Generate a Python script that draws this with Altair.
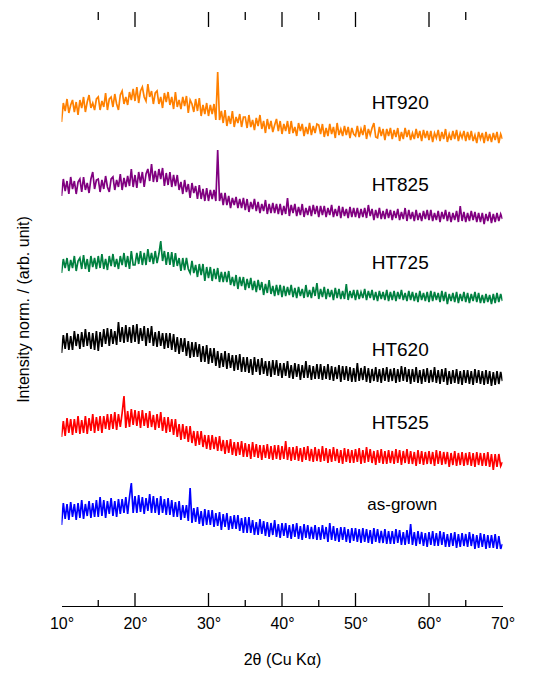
import altair as alt
import pandas as pd

# ---- data ----
series_names = ["HT920", "HT825", "HT725", "HT620", "HT525", "as-grown"]
series_colors = ["#ff8000", "#800080", "#008040", "#000000", "#ff0000", "#0000ff"]
series_offsets = [460, 380, 300, 220, 140, 60]

theta_start = 10.0
theta_step = 0.25

ht920 = [
    24, 43, 35, 47, 33, 41, 46, 34, 44, 31, 46, 38, 49, 34, 44, 51, 38, 43, 36, 47,
    49, 36, 45, 39, 53, 36, 47, 49, 39, 52, 42, 36, 51, 55, 42, 49, 41, 54, 46, 57,
    45, 59, 43, 55, 59, 49, 45, 62, 49, 55, 42, 53, 55, 42, 49, 38, 53, 44, 54, 41,
    49, 37, 54, 39, 46, 37, 49, 40, 50, 33, 46, 42, 34, 47, 35, 48, 30, 41, 32, 43,
    30, 41, 32, 42, 26, 74, 26, 35, 23, 36, 20, 30, 22, 35, 19, 29, 23, 32, 19, 29,
    29, 18, 31, 19, 26, 16, 28, 20, 31, 17, 25, 13, 27, 17, 25, 14, 21, 27, 15, 25,
    12, 22, 15, 25, 12, 25, 13, 19, 10, 23, 15, 22, 10, 19, 12, 23, 11, 20, 13, 22,
    21, 12, 22, 9, 18, 10, 22, 12, 19, 8, 23, 11, 17, 10, 20, 11, 19, 8, 18, 12,
    10, 20, 9, 17, 11, 21, 7, 17, 11, 18, 23, 9, 8, 19, 10, 17, 6, 17, 10, 18,
    7, 16, 9, 18, 5, 14, 7, 18, 9, 16, 6, 13, 7, 17, 8, 15, 5, 16, 8, 15,
    6, 15, 4, 13, 8, 16, 5, 14, 7, 17, 4, 12, 6, 15, 7, 16, 5, 13, 8, 15,
    5, 14, 6, 15, 5, 11, 3, 14, 7, 13, 3, 14, 5, 12, 4, 13, 6, 14, 3, 12,
    7]
ht825 = [
    30, 47, 35, 45, 32, 49, 37, 45, 32, 44, 47, 34, 49, 36, 43, 33, 47, 54, 37, 46,
    47, 34, 46, 37, 50, 39, 34, 47, 49, 36, 46, 39, 52, 36, 48, 39, 50, 40, 57, 39,
    51, 38, 54, 43, 54, 39, 52, 57, 45, 62, 44, 55, 44, 57, 47, 58, 40, 53, 41, 54,
    39, 51, 40, 51, 36, 44, 32, 46, 34, 42, 28, 43, 33, 40, 27, 41, 27, 37, 25, 38,
    25, 36, 27, 36, 25, 76, 25, 33, 21, 33, 21, 30, 18, 28, 21, 29, 18, 27, 18, 28,
    16, 27, 14, 24, 17, 27, 15, 24, 13, 22, 15, 26, 12, 22, 13, 23, 13, 22, 12, 22,
    11, 20, 12, 28, 10, 21, 13, 22, 10, 19, 11, 22, 9, 18, 11, 20, 10, 21, 12, 20,
    9, 20, 11, 20, 9, 18, 11, 21, 9, 17, 10, 20, 8, 19, 10, 17, 8, 19, 9, 18,
    9, 18, 8, 17, 9, 18, 8, 21, 10, 17, 6, 16, 8, 18, 7, 15, 7, 17, 8, 16,
    6, 15, 8, 17, 6, 14, 7, 18, 5, 16, 7, 14, 5, 16, 6, 13, 5, 15, 7, 16,
    6, 16, 5, 13, 6, 15, 4, 14, 7, 16, 5, 14, 4, 13, 6, 15, 4, 20, 5, 14,
    4, 13, 5, 15, 6, 14, 4, 13, 4, 13, 2, 12, 5, 14, 3, 12, 4, 13, 5, 12,
    7]
ht725 = [
    33, 47, 38, 48, 35, 46, 38, 50, 35, 45, 48, 37, 51, 37, 47, 34, 50, 39, 48, 37,
    50, 38, 52, 37, 47, 36, 50, 40, 52, 39, 47, 37, 50, 41, 53, 39, 50, 37, 55, 41,
    41, 53, 42, 55, 41, 53, 41, 57, 44, 53, 42, 55, 43, 52, 65, 45, 55, 41, 54, 41,
    54, 39, 53, 40, 48, 35, 48, 36, 48, 37, 33, 45, 33, 41, 29, 42, 31, 42, 25, 39,
    28, 39, 25, 37, 27, 38, 24, 34, 24, 34, 24, 35, 21, 29, 20, 31, 17, 29, 20, 29,
    16, 27, 18, 28, 16, 25, 14, 26, 16, 24, 11, 22, 13, 26, 12, 20, 10, 21, 11, 21,
    9, 20, 10, 19, 11, 21, 9, 18, 8, 19, 10, 17, 8, 21, 9, 16, 8, 19, 10, 23,
    7, 17, 9, 19, 7, 17, 9, 16, 6, 18, 8, 17, 7, 15, 7, 22, 6, 15, 8, 16,
    6, 16, 7, 14, 8, 17, 6, 15, 8, 16, 6, 14, 5, 15, 7, 14, 6, 16, 5, 14,
    6, 15, 5, 14, 7, 16, 6, 13, 5, 15, 6, 14, 5, 13, 4, 15, 6, 13, 5, 14,
    4, 15, 5, 14, 6, 13, 4, 15, 5, 14, 2, 12, 5, 13, 4, 14, 3, 12, 5, 14,
    4, 13, 3, 12, 5, 14, 4, 13, 3, 11, 3, 12, 4, 11, 2, 12, 3, 13, 4, 12,
    5]
ht620 = [
    33, 51, 37, 53, 36, 50, 36, 55, 40, 52, 37, 54, 39, 57, 40, 54, 37, 53, 36, 55,
    35, 54, 39, 57, 42, 58, 40, 57, 42, 55, 41, 64, 44, 59, 43, 61, 44, 59, 43, 61,
    44, 62, 42, 58, 45, 60, 40, 58, 43, 60, 40, 54, 39, 55, 40, 53, 37, 53, 38, 53,
    36, 52, 34, 49, 32, 48, 34, 48, 30, 45, 28, 44, 29, 44, 29, 42, 24, 40, 24, 41,
    22, 38, 23, 38, 20, 35, 18, 33, 19, 35, 17, 33, 18, 31, 15, 31, 16, 32, 14, 29,
    14, 29, 13, 27, 11, 29, 14, 27, 11, 28, 12, 25, 10, 25, 9, 26, 11, 26, 10, 23,
    8, 23, 10, 25, 8, 21, 7, 23, 9, 22, 6, 21, 8, 25, 8, 21, 6, 20, 7, 22,
    7, 22, 6, 20, 7, 22, 6, 20, 5, 19, 7, 21, 4, 20, 6, 20, 5, 19, 4, 18,
    4, 23, 5, 18, 6, 20, 4, 18, 3, 17, 5, 19, 4, 17, 3, 18, 5, 19, 4, 17,
    5, 18, 3, 17, 4, 20, 5, 19, 4, 17, 2, 17, 4, 19, 3, 16, 2, 17, 4, 18,
    3, 16, 4, 19, 3, 16, 2, 17, 4, 18, 1, 15, 2, 16, 3, 17, 2, 15, 1, 16,
    3, 16, 2, 15, 1, 17, 3, 16, 2, 15, 1, 16, 2, 15, 0, 14, 1, 15, 2, 14,
    5]
ht525 = [
    29, 45, 30, 48, 33, 47, 31, 47, 33, 50, 32, 46, 33, 50, 32, 48, 35, 52, 33, 49,
    35, 50, 33, 50, 37, 52, 36, 52, 37, 54, 36, 52, 39, 53, 70, 38, 55, 39, 57, 41,
    56, 40, 55, 38, 56, 40, 53, 38, 55, 39, 51, 36, 52, 38, 54, 35, 49, 33, 49, 34,
    47, 31, 47, 29, 42, 26, 42, 27, 40, 24, 40, 23, 35, 20, 35, 21, 35, 19, 31, 17,
    31, 16, 31, 17, 29, 15, 30, 15, 26, 12, 26, 13, 27, 11, 24, 10, 24, 11, 25, 9,
    23, 9, 22, 7, 24, 9, 22, 8, 21, 6, 21, 8, 22, 7, 20, 6, 21, 7, 21, 6,
    20, 7, 25, 6, 19, 5, 19, 6, 20, 5, 18, 4, 19, 6, 20, 5, 17, 4, 19, 5,
    17, 4, 20, 5, 18, 3, 17, 4, 19, 5, 17, 3, 16, 2, 18, 4, 17, 3, 16, 3,
    17, 4, 18, 2, 16, 3, 19, 4, 17, 3, 15, 1, 16, 3, 17, 2, 15, 2, 16, 3,
    15, 2, 17, 3, 16, 1, 15, 3, 17, 2, 15, 2, 14, 0, 16, 2, 15, 1, 14, 2,
    15, 2, 14, 0, 16, 2, 15, 1, 14, 2, 14, -1, 13, 1, 15, 0, 13, 1, 14, 0,
    13, 1, 14, 0, 13, -1, 14, 1, 13, 0, 13, 0, 14, -1, 12, -4, 12, -1, 12, 0,
    4]
asgrown = [
    21, 43, 27, 42, 26, 44, 29, 42, 26, 43, 28, 46, 27, 42, 30, 45, 28, 43, 29, 46,
    29, 49, 30, 46, 28, 45, 32, 48, 30, 45, 29, 47, 32, 47, 33, 49, 32, 49, 63, 33,
    50, 33, 51, 34, 49, 32, 48, 35, 52, 33, 50, 33, 48, 31, 50, 33, 47, 31, 48, 31,
    46, 29, 44, 29, 45, 26, 41, 28, 41, 25, 58, 23, 38, 24, 39, 22, 35, 20, 37, 21,
    36, 21, 36, 19, 33, 20, 34, 16, 32, 19, 33, 16, 30, 17, 31, 17, 31, 15, 28, 13,
    29, 13, 29, 13, 26, 11, 24, 11, 27, 12, 25, 10, 24, 9, 23, 11, 26, 9, 22, 8,
    23, 10, 23, 8, 21, 7, 22, 9, 23, 7, 20, 6, 22, 8, 21, 7, 19, 7, 21, 6,
    19, 6, 21, 7, 19, 4, 23, 6, 20, 5, 18, 4, 19, 6, 19, 4, 17, 3, 18, 5,
    18, 4, 17, 3, 18, 4, 17, 3, 16, 2, 18, 4, 17, 3, 15, 3, 17, 2, 15, 2,
    15, 2, 17, 3, 16, 1, 14, 1, 16, 2, 22, 1, 14, 0, 15, 2, 14, 0, 13, -1,
    14, 1, 15, 0, 13, 0, 15, 1, 14, -1, 12, -1, 13, 0, 14, -2, 12, -1, 13, 0,
    12, -1, 14, 0, 12, -3, 11, -2, 13, -1, 12, -3, 11, -2, 11, -2, 12, -3, 10, -3,
    2]
series_values = [ht920, ht825, ht725, ht620, ht525, asgrown]

label_theta = [52.2, 52.2, 52.2, 52.2, 52.2, 51.6]
label_y = [503, 421, 343, 256, 183, 101]
label_size = [19, 19, 19, 19, 19, 17]

axis_label_values = [10, 20, 30, 40, 50, 60, 70]
major_ticks = [20, 30, 40, 50, 60]
minor_ticks = [15, 35, 45, 65]

X_MIN, X_MAX = 10, 70
Y_MIN, Y_MAX = 0, 594

# ---- tables ----
rows = []
for name, off, vals in zip(series_names, series_offsets, series_values):
    for i, v in enumerate(vals):
        rows.append({"theta": theta_start + theta_step * i, "intensity": v + off,
                     "series": name, "order": i})
df = pd.DataFrame(rows)

labels_df = pd.DataFrame({"theta": label_theta, "y": label_y, "text": series_names,
                          "size": label_size})

tick_rows = []
for t in major_ticks:
    tick_rows.append({"pos": t, "y0": Y_MIN, "y1": Y_MIN + 13})
    tick_rows.append({"pos": t, "y0": Y_MAX - 15, "y1": Y_MAX})
for t in minor_ticks:
    tick_rows.append({"pos": t, "y0": Y_MIN, "y1": Y_MIN + 6})
    tick_rows.append({"pos": t, "y0": Y_MAX - 8, "y1": Y_MAX})
ticks_df = pd.DataFrame(tick_rows)

xscale = alt.Scale(domain=[X_MIN, X_MAX], nice=False, zero=False)
yscale = alt.Scale(domain=[Y_MIN, Y_MAX], nice=False, zero=False)
FONT = "Liberation Sans"

lines = alt.Chart(df).mark_line(strokeWidth=1.7, clip=True).encode(
    x=alt.X("theta:Q", scale=xscale,
            axis=alt.Axis(values=axis_label_values, title="2θ (Cu Kα)",
                          labelExpr="datum.value + '°'", ticks=False, grid=False,
                          domain=True, domainColor="#000000", domainWidth=1.2,
                          labelFlush=False,
                          labelFont=FONT, labelFontSize=16, labelColor="#000000",
                          labelPadding=9,
                          titleFont=FONT, titleFontSize=16, titleFontWeight="normal",
                          titleColor="#000000", titlePadding=20)),
    y=alt.Y("intensity:Q", scale=yscale,
            axis=alt.Axis(title="Intensity norm. / (arb. unit)", labels=False,
                          ticks=False, domain=False, grid=False,
                          titleFont=FONT, titleFontSize=16, titleFontWeight="normal",
                          titleColor="#000000", titlePadding=30)),
    color=alt.Color("series:N", scale=alt.Scale(domain=series_names, range=series_colors),
                    legend=None),
    detail="series:N",
    order="order:Q",
)

ticks = alt.Chart(ticks_df).mark_rule(color="#000000", strokeWidth=1.3).encode(
    x=alt.X("pos:Q", scale=xscale),
    y=alt.Y("y0:Q", scale=yscale),
    y2="y1:Q",
)

texts = alt.Chart(labels_df).mark_text(align="left", baseline="middle", font=FONT,
                                        color="#000000").encode(
    x=alt.X("theta:Q", scale=xscale),
    y=alt.Y("y:Q", scale=yscale),
    text="text:N",
    size=alt.Size("size:Q", scale=None, legend=None),
)

chart = alt.layer(lines, ticks, texts).properties(
    width=441, height=594,
    background="#ffffff",
    autosize=alt.AutoSizeParams(type="none"),
    padding={"left": 53.5, "top": 4, "right": 20, "bottom": 68},
).configure_view(stroke=None)

chart.save("out.html", embed_options={"renderer": "svg", "actions": False})
